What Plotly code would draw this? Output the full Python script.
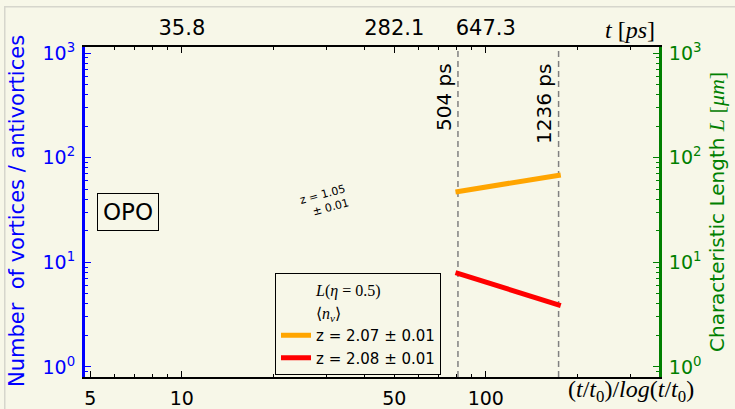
import numpy as np
import plotly.graph_objects as go

# ---------------- data ----------------
t_marks_ps = [504, 1236]                 # vertical dashed markers (ps)
x_fit = [79.5, 176.5]                    # (t/t0)/log(t/t0) span of fits
L_fit = [47.0, 68.4]                     # characteristic length (right axis)
nv_fit = [7.96, 3.85]                    # number of vortices (left axis)
legend_names = ["z = 2.07 ± 0.01", "z = 2.08 ± 0.01"]
bottom_tickvals = [5, 10, 50, 100]
bottom_ticktext = ["5", "10", "50", "100"]
top_tickvals = [10, 50, 100]
top_ticktext = ["35.8", "282.1", "647.3"]
x_minor = [6, 7, 8, 9, 20, 30, 40, 60, 70, 80, 90, 200, 300]
y_major = [1, 10, 100, 1000]
y_labels = ["10<sup>0</sup>", "10<sup>1</sup>", "10<sup>2</sup>", "10<sup>3</sup>"]
y_minor = [0.9] + [m * d for d in (1, 10, 100) for m in range(2, 10)]

X_LIM = [4.8, 371.5]
Y_LIM = [0.8, 1143.0]
X_RANGE = [float(np.log10(v)) for v in X_LIM]
Y_RANGE = [float(np.log10(v)) for v in Y_LIM]

BG = "#f7f7e8"
BLUE = "#0000ff"
GREEN = "#008000"
SANS = "DejaVu Sans"
SERIF = "Liberation Serif"

# plot area in pixels
L_PX, R_PX, T_PX, B_PX = 85, 659, 47, 377
W, H = 735, 409


def px(xp):
    return (xp - L_PX) / (R_PX - L_PX)


def py(yp):
    return (B_PX - yp) / (B_PX - T_PX)


fig = go.Figure()

# vertical dashed markers at t = 504 ps and 1236 ps, x = t / ln(t)
for t in t_marks_ps:
    xv = float(t / np.log(t))
    fig.add_trace(go.Scatter(x=[xv, xv], y=Y_LIM, mode="lines", showlegend=False,
                             hoverinfo="skip", cliponaxis=True,
                             line=dict(color="#808080", width=1.5, dash="6px,4px")))

# legend-only header entries
fig.add_trace(go.Scatter(x=[None], y=[None], mode="lines",
                         line=dict(color="rgba(0,0,0,0)", width=0),
                         name=f"<span style='font-family:{SERIF};font-size:16px'><i>L</i>(<i>η</i> = 0.5)</span>",
                         legendgroup="a"))
fig.add_trace(go.Scatter(x=[None], y=[None], mode="lines",
                         line=dict(color="rgba(0,0,0,0)", width=0),
                         name=f"<span style='font-family:{SERIF};font-size:16px'>⟨<i>n</i><sub><i>v</i></sub>⟩</span>",
                         legendgroup="b"))

fig.add_trace(go.Scatter(x=x_fit, y=L_fit, mode="lines", yaxis="y2",
                         line=dict(color="#ffa500", width=5),
                         name=legend_names[0], legendgroup="c"))
fig.add_trace(go.Scatter(x=x_fit, y=nv_fit, mode="lines", yaxis="y",
                         line=dict(color="#ff0000", width=5),
                         name=legend_names[1], legendgroup="d"))
# invisible trace to activate top axis
fig.add_trace(go.Scatter(x=[None], y=[None], xaxis="x2", showlegend=False))


def ann(text, xp, yp, size, color="black", family=SANS, **kw):
    d = dict(text=text, xref="paper", yref="paper", x=px(xp), y=py(yp),
             xanchor="center", yanchor="middle", showarrow=False,
             font=dict(family=family, size=size, color=color))
    d.update(kw)
    return d


annotations = [
    # faint outer frame of the original figure (top and left edges visible)
    dict(text=" ", xref="paper", yref="paper", x=px(4), y=py(6),
         xanchor="left", yanchor="top", showarrow=False, width=780, height=460,
         bordercolor="#d6d6cc", borderwidth=1.5, borderpad=0),
    ann("Number\u00a0 of vortices / antivortices", 17, 211, 21, BLUE, textangle=-90),
    ann(f"Characteristic Length <span style='font-family:{SERIF};font-size:22px'><i>L</i> [<i>μm</i>]</span>",
        716, 212, 20, GREEN, textangle=-90),
    ann("(<i>t</i>/<i>t</i><sub>0</sub>)/<i>log</i>(<i>t</i>/<i>t</i><sub>0</sub>)",
        631, 391, 24, family=SERIF),
    ann("<i>t</i> [<i>ps</i>]", 630, 30, 24, family=SERIF),
    ann("z = 1.05<br>± 0.01", 324, 201, 11, textangle=-15, align="right"),
    ann("OPO", 128, 212, 23, bordercolor="black", borderwidth=1, borderpad=5),
]
for t, xc, yc in zip(t_marks_ps, [444, 544], [97, 104]):
    annotations.append(ann(f"{t} ps", xc, yc, 20, textangle=-90))

common = dict(type="log", showgrid=False, zeroline=False, showline=True,
              automargin=False, tickmode="array", ticks="inside", ticklen=6, tickwidth=1)

fig.update_layout(
    width=W, height=H,
    margin=dict(l=L_PX, r=W - R_PX, t=T_PX, b=H - B_PX, pad=0, autoexpand=False),
    paper_bgcolor=BG, plot_bgcolor=BG,
    annotations=annotations,
    legend=dict(x=px(275), y=py(273), xanchor="left", yanchor="top",
                bgcolor=BG, bordercolor="black", borderwidth=1,
                font=dict(family=SANS, size=15, color="black"),
                tracegroupgap=0, itemwidth=30),
    xaxis=dict(**common, range=X_RANGE, linecolor="black", linewidth=2,
               tickvals=bottom_tickvals, ticktext=bottom_ticktext, tickcolor="black",
               ticklabelstandoff=3,
               minor=dict(tickvals=x_minor, ticks="inside", ticklen=3, tickcolor="black"),
               tickfont=dict(family=SANS, size=19, color="black")),
    xaxis2=dict(**common, range=X_RANGE, overlaying="x", side="top",
                linecolor="black", linewidth=2,
                tickvals=top_tickvals, ticktext=top_ticktext, tickcolor="black",
                ticklabelstandoff=2,
                minor=dict(tickvals=x_minor, ticks="inside", ticklen=3, tickcolor="black"),
                tickfont=dict(family=SANS, size=21, color="black")),
    yaxis=dict(**common, range=Y_RANGE, linecolor=BLUE, linewidth=3,
               tickvals=y_major, ticktext=y_labels, tickcolor=BLUE, ticklabelstandoff=3,
               minor=dict(tickvals=y_minor, ticks="inside", ticklen=3, tickcolor=BLUE),
               tickfont=dict(family=SANS, size=19, color=BLUE)),
    yaxis2=dict(**common, range=Y_RANGE, overlaying="y", side="right",
                linecolor=GREEN, linewidth=3,
                tickvals=y_major, ticktext=y_labels, tickcolor=GREEN, ticklabelstandoff=3,
                minor=dict(tickvals=y_minor, ticks="inside", ticklen=3, tickcolor=GREEN),
                tickfont=dict(family=SANS, size=19, color=GREEN)),
)

fig.write_html("out.html")
